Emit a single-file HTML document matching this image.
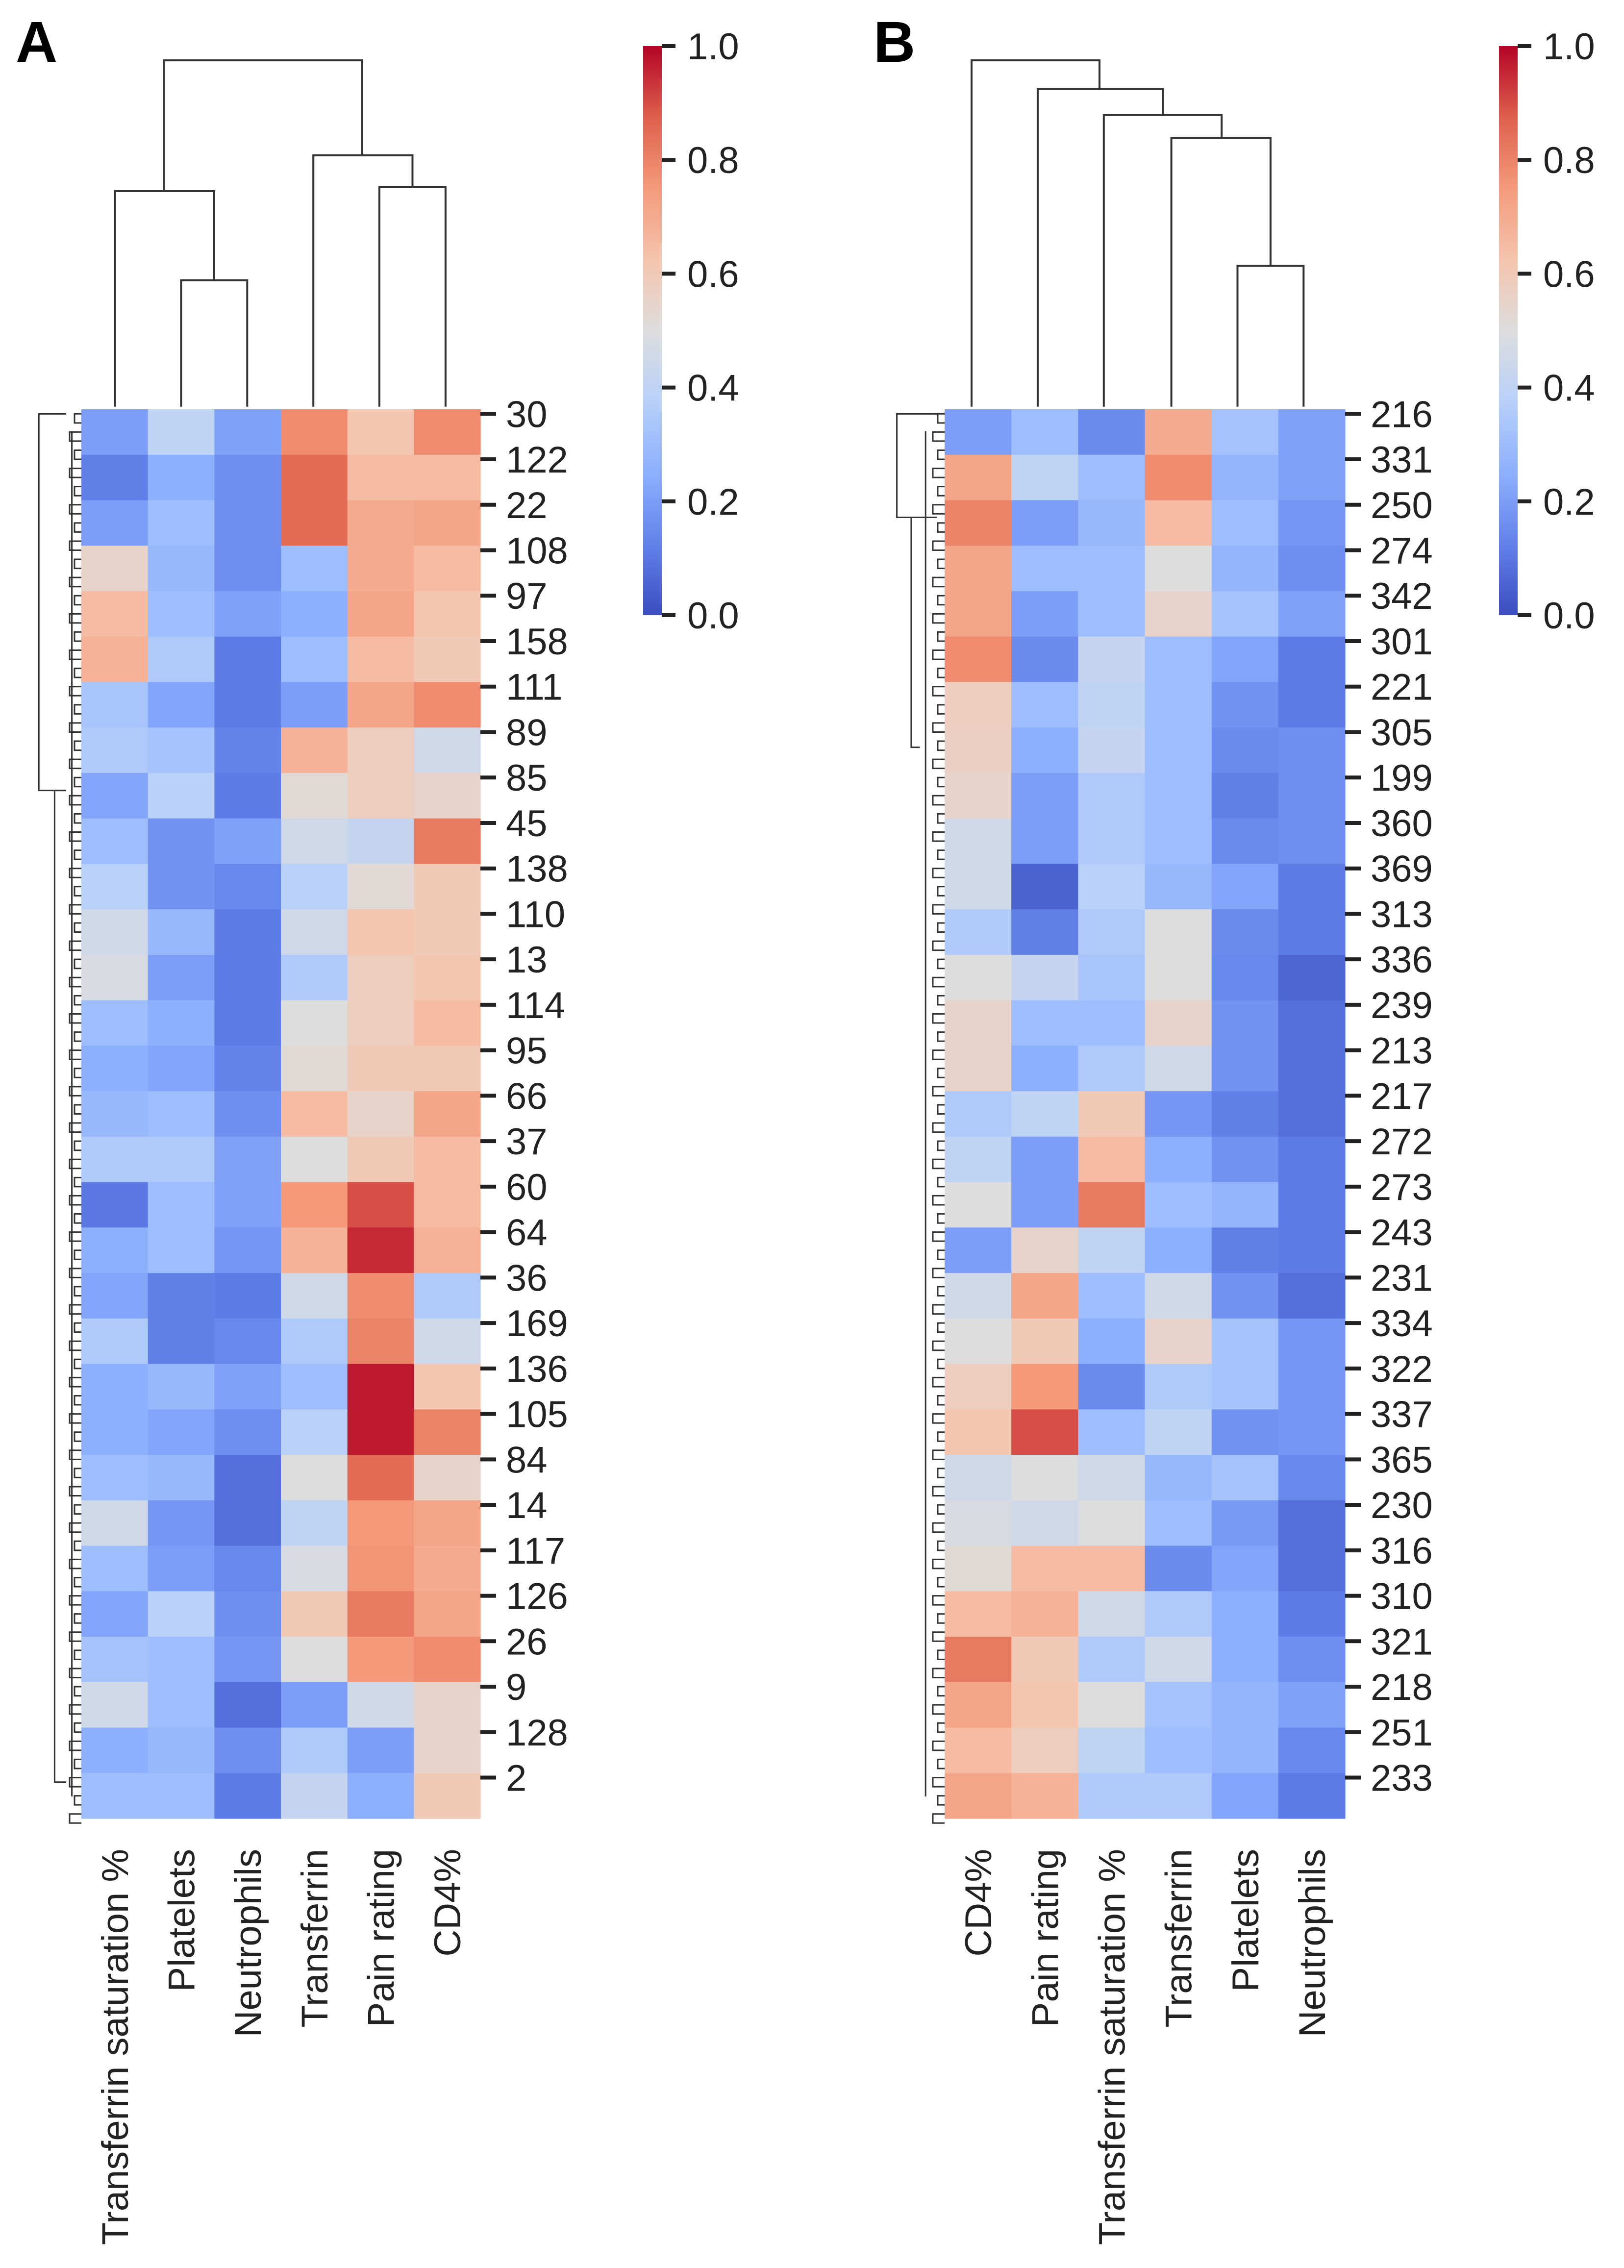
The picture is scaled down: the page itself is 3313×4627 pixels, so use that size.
<!DOCTYPE html>
<html><head><meta charset="utf-8"><style>
html,body{margin:0;padding:0;background:#fff;}
svg{display:block;font-family:"Liberation Sans",Arial,sans-serif;}
</style></head><body>
<svg id="fig" width="3313" height="4627" viewBox="0 0 3313 4627" xmlns="http://www.w3.org/2000/svg">
<rect width="3313" height="4627" fill="#fff"/>
<defs>
<linearGradient id="cbgrad" x1="0" y1="1" x2="0" y2="0">
<stop offset="0" stop-color="rgb(59,76,192)"/><stop offset="0.125" stop-color="rgb(98,130,234)"/>
<stop offset="0.25" stop-color="rgb(141,176,254)"/><stop offset="0.375" stop-color="rgb(184,208,249)"/>
<stop offset="0.5" stop-color="rgb(221,221,221)"/><stop offset="0.625" stop-color="rgb(245,196,173)"/>
<stop offset="0.75" stop-color="rgb(244,154,123)"/><stop offset="0.875" stop-color="rgb(222,96,77)"/>
<stop offset="1" stop-color="rgb(180,4,38)"/>
</linearGradient>
</defs>
<g id="root"></g>
</svg>
<script>
// ---- Panel A data ----
const colsA = ["Transferrin saturation %","Platelets","Neutrophils","Transferrin","Pain rating","CD4%"];
const rowLabelsA = ["30","122","22","108","97","158","111","89","85","45","138","110","13","114","95","66","37","60","64","36","169","136","105","84","14","117","126","26","9","128","2"];
const a_ts    = [0.2,0.12,0.2,0.55,0.65,0.68,0.33,0.35,0.22,0.3,0.38,0.45,0.48,0.3,0.25,0.28,0.35,0.1,0.25,0.22,0.35,0.25,0.25,0.3,0.45,0.3,0.22,0.32,0.45,0.25,0.3];
const a_pl    = [0.4,0.25,0.3,0.28,0.3,0.35,0.22,0.32,0.38,0.17,0.17,0.28,0.2,0.25,0.22,0.3,0.35,0.3,0.3,0.12,0.12,0.28,0.22,0.28,0.18,0.2,0.38,0.3,0.3,0.28,0.3];
const a_ne    = [0.21,0.16,0.16,0.16,0.21,0.11,0.11,0.13,0.11,0.21,0.14,0.11,0.11,0.11,0.13,0.16,0.21,0.21,0.18,0.11,0.14,0.21,0.16,0.08,0.08,0.14,0.16,0.18,0.08,0.16,0.11];
const a_tr    = [0.78,0.85,0.85,0.3,0.25,0.3,0.2,0.68,0.52,0.45,0.38,0.45,0.35,0.5,0.52,0.65,0.5,0.75,0.68,0.45,0.35,0.3,0.38,0.5,0.4,0.48,0.6,0.5,0.2,0.35,0.42];
const a_pain  = [0.62,0.65,0.7,0.7,0.72,0.65,0.72,0.58,0.58,0.42,0.52,0.62,0.58,0.58,0.6,0.55,0.6,0.9,0.95,0.78,0.8,0.97,0.97,0.85,0.75,0.76,0.82,0.75,0.45,0.2,0.25];
const a_cd4   = [0.78,0.65,0.72,0.65,0.62,0.6,0.78,0.45,0.55,0.82,0.6,0.6,0.62,0.65,0.6,0.72,0.65,0.65,0.68,0.35,0.45,0.62,0.8,0.55,0.72,0.7,0.72,0.78,0.55,0.55,0.6];
// ---- Panel B data ----
const colsB = ["CD4%","Pain rating","Transferrin saturation %","Transferrin","Platelets","Neutrophils"];
const rowLabelsB = ["216","331","250","274","342","301","221","305","199","360","369","313","336","239","213","217","272","273","243","231","334","322","337","365","230","316","310","321","218","251","233"];
const b_cd4   = [0.2,0.72,0.8,0.72,0.72,0.78,0.58,0.57,0.55,0.45,0.45,0.35,0.5,0.55,0.55,0.35,0.4,0.5,0.2,0.45,0.5,0.58,0.62,0.45,0.48,0.52,0.65,0.82,0.72,0.65,0.72];
const b_pain  = [0.3,0.4,0.2,0.3,0.2,0.15,0.3,0.25,0.2,0.2,0.05,0.12,0.42,0.3,0.25,0.4,0.2,0.2,0.55,0.72,0.6,0.75,0.9,0.5,0.45,0.65,0.68,0.6,0.62,0.58,0.68];
const b_ts    = [0.15,0.3,0.28,0.3,0.3,0.42,0.4,0.42,0.35,0.35,0.38,0.35,0.33,0.3,0.35,0.6,0.65,0.82,0.4,0.3,0.25,0.15,0.3,0.45,0.5,0.65,0.45,0.35,0.5,0.4,0.35];
const b_tr    = [0.7,0.78,0.65,0.5,0.55,0.3,0.3,0.3,0.3,0.3,0.28,0.5,0.5,0.55,0.45,0.18,0.25,0.3,0.25,0.45,0.55,0.35,0.4,0.28,0.3,0.15,0.35,0.45,0.32,0.3,0.35];
const b_pl    = [0.32,0.27,0.3,0.27,0.32,0.22,0.17,0.15,0.12,0.15,0.22,0.15,0.14,0.17,0.17,0.12,0.17,0.27,0.12,0.17,0.32,0.32,0.17,0.32,0.19,0.22,0.25,0.25,0.27,0.27,0.22];
const b_ne    = [0.21,0.21,0.18,0.16,0.21,0.11,0.11,0.16,0.16,0.16,0.11,0.11,0.06,0.08,0.08,0.08,0.11,0.11,0.11,0.08,0.18,0.18,0.18,0.14,0.08,0.08,0.11,0.16,0.21,0.14,0.11];
const cbTicks = [0.0,0.2,0.4,0.6,0.8,1.0];

const NS="http://www.w3.org/2000/svg";
const root=document.getElementById('root');
function mk(tag,attrs,parent){const e=document.createElementNS(NS,tag);for(const k in attrs)e.setAttribute(k,attrs[k]);(parent||root).appendChild(e);return e;}
const stops=[[59,76,192],[98,130,234],[141,176,254],[184,208,249],[221,221,221],[245,196,173],[244,154,123],[222,96,77],[180,4,38]];
function cmap(v){v=Math.max(0,Math.min(1,v));const p=v*8;const i=Math.min(7,Math.floor(p));const t=p-i;const a=stops[i],b=stops[i+1];
return `rgb(${Math.round(a[0]+(b[0]-a[0])*t)},${Math.round(a[1]+(b[1]-a[1])*t)},${Math.round(a[2]+(b[2]-a[2])*t)})`;}

function panel(cfg){
  const g=mk('g',{});
  
  
  const nb=cfg.series[0].length;
  const cw=(cfg.x1-cfg.x0)/cfg.series.length;
  const bh=(cfg.y1-cfg.y0)/nb;
  const xs=c=>cfg.x0+c*cw, ys=r=>cfg.y0+r*bh;
  cfg.series.forEach((arr,c)=>{
    arr.forEach((v,r)=>{
      const rc=mk('rect',{x:xs(c),y:ys(r),width:cw+0.6,height:bh+0.6,fill:cmap(v)},g);
      
      
    });
    const t=mk('text',{x:0,y:0,'font-size':76,fill:'#222','text-anchor':'end',transform:`translate(${xs(c)+cw/2+27},${cfg.y1+62}) rotate(-90)`},g);
    t.textContent=cfg.cols[c];
    
    
  });
  cfg.rows.forEach((lab,r)=>{
    const yy=ys(r)+bh/10;
    const tk=mk('line',{x1:cfg.x1,x2:cfg.x1+32,y1:yy,y2:yy,stroke:'#222','stroke-width':8},g);
    
    
    const t=mk('text',{x:cfg.x1+52,y:yy+27,'font-size':76,fill:'#222'},g);
    t.textContent=lab;
    
    
  });
  const rd=mk('g',{stroke:'#333','stroke-width':3,fill:'none'},g);
  
  
  const nr=155, rh=(cfg.y1-cfg.y0)/nr;
  for(let i=0;i<nr;i+=2){
    const y1=cfg.y0+rh*(i+0.5), y2=cfg.y0+rh*(i+1.5);
    const xl=cfg.x0-14-((i*7)%4)*5;
    mk('path',{d:`M${cfg.x0},${y1}H${xl}V${y2}H${cfg.x0}`},rd);
  }
  cfg.rowTree.forEach(s=>mk('path',{d:s},rd));
  const cd=mk('g',{stroke:'#333','stroke-width':4,fill:'none'},g);
  
  
  cfg.colTree.forEach(s=>mk('path',{d:s},cd));
  const cb=mk('g',{},g);
  
  
  mk('rect',{x:cfg.cbx,y:94,width:38,height:1161,fill:'url(#cbgrad)'},cb);
  cbTicks.forEach(v=>{
    const yy=1255-v*1161;
    const l=mk('line',{x1:cfg.cbx+38,x2:cfg.cbx+66,y1:yy,y2:yy,stroke:'#222','stroke-width':8},cb);
    
    
    const t=mk('text',{x:cfg.cbx+90,y:yy+27,'font-size':76,fill:'#222'},cb);
    t.textContent=v.toFixed(1);
    
    
  });
  const L=mk('text',{x:cfg.lx,y:126,'font-size':118,'font-weight':'bold',fill:'#000'},g);
  L.textContent=cfg.letter;
  
  
}
const s=2.932;
function P(pts){return pts.map((p,i)=>(i?'L':'M')+(p[0]*s).toFixed(1)+','+(p[1]*s).toFixed(1)).join('');}
panel({name:'panel-a',letter:'A',lx:32,x0:166,x1:980,y0:835,y1:3710,cbx:1312,cols:colsA,rows:rowLabelsA,
 series:[a_ts,a_pl,a_ne,a_tr,a_pain,a_cd4],
 colTree:[P([[126,283],[126,195],[172,195],[172,283]]),P([[80,283],[80,133],[149,133],[149,195]]),
  P([[264,283],[264,130],[310,130],[310,283]]),P([[218,283],[218,108],[287,108],[287,130]]),
  P([[114,133],[114,42],[252,42],[252,108]])],
 rowTree:[P([[46,288],[27,288],[27,550],[46,550]]),P([[46,550],[38,550],[38,1240],[46,1240]]),P([[50,300],[50,1250]])]});
panel({name:'panel-b',letter:'B',lx:1782,x0:1927,x1:2744,y0:835,y1:3710,cbx:3058,cols:colsB,rows:rowLabelsB,
 series:[b_cd4,b_pain,b_ts,b_tr,b_pl,b_ne],
 colTree:[P([[861,283],[861,185],[907,185],[907,283]]),P([[815,283],[815,96],[884,96],[884,185]]),
  P([[768,283],[768,80],[850,80],[850,96]]),P([[722,283],[722,62],[809,62],[809,80]]),
  P([[676,283],[676,42],[765,42],[765,62]])],
 rowTree:[P([[652,288],[624,288],[624,360],[652,360]]),P([[640,360],[634,360],[634,520],[640,520]]),P([[644,300],[644,1250]])]});
</script>
</body></html>
